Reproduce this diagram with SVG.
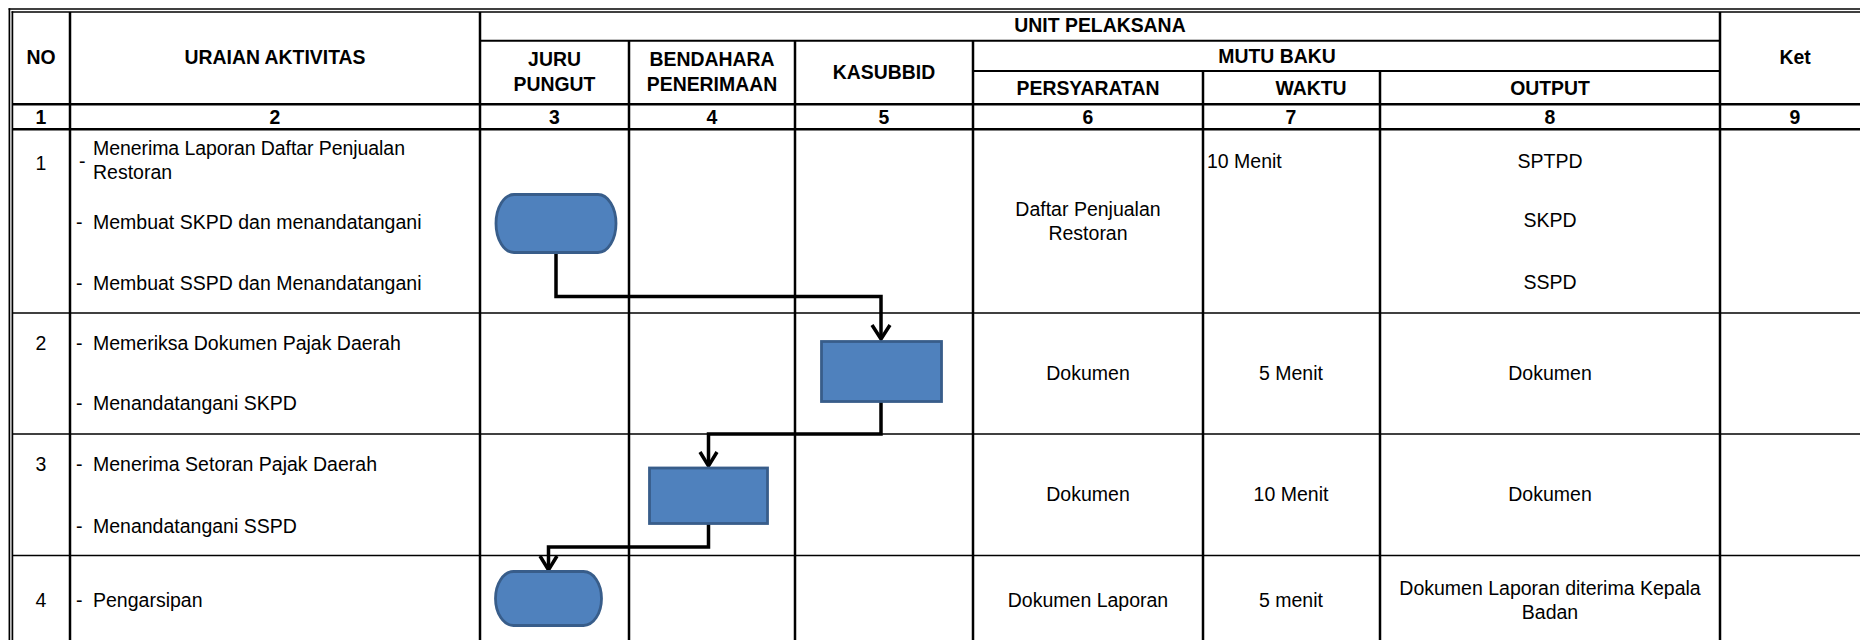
<svg xmlns="http://www.w3.org/2000/svg" width="1860" height="640" viewBox="0 0 1860 640">
<style>
.bg{fill:#ffffff}
.v{stroke:#000;stroke-width:2.5}
.hh{stroke:#000;stroke-width:2}
.hn{stroke:#000;stroke-width:2.5}
.hb{stroke:#000;stroke-width:1.5}
.ob{stroke:#000;stroke-width:1.7}
.th{font-family:"Liberation Sans",Arial,sans-serif;font-weight:bold;font-size:19.4px;fill:#000;text-anchor:middle}
.t{font-family:"Liberation Sans",Arial,sans-serif;font-size:19.5px;fill:#000}
.c{text-anchor:middle}
.shape{fill:#4F81BD;stroke:#385D8A;stroke-width:2.8}
.conn{fill:none;stroke:#000;stroke-width:3.5;stroke-linejoin:miter}
.head{fill:none;stroke:#000;stroke-width:3.5;stroke-linejoin:miter;stroke-linecap:butt}
</style>
<rect class="bg" x="0" y="0" width="1860" height="640"/>
<g id="table">
  <line class="ob" x1="8.6" y1="9" x2="1860" y2="9"/>
  <line class="ob" x1="11.6" y1="12" x2="1860" y2="12"/>
  <line class="ob" x1="9.4" y1="8.2" x2="9.4" y2="640"/>
  <line class="ob" x1="12.4" y1="11.2" x2="12.4" y2="640"/>
  <line class="hh" x1="480" y1="40.7" x2="1720" y2="40.7"/>
  <line class="hh" x1="973" y1="71" x2="1720" y2="71"/>
  <line class="hn" x1="12" y1="104.3" x2="1860" y2="104.3"/>
  <line class="hn" x1="12" y1="129.3" x2="1860" y2="129.3"/>
  <line class="hb" x1="12" y1="313" x2="1860" y2="313"/>
  <line class="hb" x1="12" y1="434" x2="1860" y2="434"/>
  <line class="hb" x1="12" y1="555.5" x2="1860" y2="555.5"/>
  <line class="v" x1="70" y1="12" x2="70" y2="640"/>
  <line class="v" x1="480" y1="12" x2="480" y2="640"/>
  <line class="v" x1="629" y1="40.7" x2="629" y2="640"/>
  <line class="v" x1="795" y1="40.7" x2="795" y2="640"/>
  <line class="v" x1="973" y1="40.7" x2="973" y2="640"/>
  <line class="v" x1="1203" y1="71" x2="1203" y2="640"/>
  <line class="v" x1="1380" y1="71" x2="1380" y2="640"/>
  <line class="v" x1="1720" y1="12" x2="1720" y2="640"/>
</g>
<g id="header">
  <text class="th" x="41" y="64">NO</text>
  <text class="th" x="275" y="64">URAIAN AKTIVITAS</text>
  <text class="th" x="1100" y="32">UNIT PELAKSANA</text>
  <text class="th" x="554.5" y="66">JURU</text>
  <text class="th" x="554.5" y="91">PUNGUT</text>
  <text class="th" x="712" y="66">BENDAHARA</text>
  <text class="th" x="712" y="91">PENERIMAAN</text>
  <text class="th" x="884" y="79">KASUBBID</text>
  <text class="th" x="1277" y="63">MUTU BAKU</text>
  <text class="th" x="1088" y="95">PERSYARATAN</text>
  <text class="th" x="1311" y="95">WAKTU</text>
  <text class="th" x="1550" y="95">OUTPUT</text>
  <text class="th" x="1795" y="64">Ket</text>
  <text class="th" x="41" y="123.5">1</text>
  <text class="th" x="275" y="123.5">2</text>
  <text class="th" x="554.5" y="123.5">3</text>
  <text class="th" x="712" y="123.5">4</text>
  <text class="th" x="884" y="123.5">5</text>
  <text class="th" x="1088" y="123.5">6</text>
  <text class="th" x="1291" y="123.5">7</text>
  <text class="th" x="1550" y="123.5">8</text>
  <text class="th" x="1795" y="123.5">9</text>
</g>
<g id="rows">
  <text class="t c" x="41" y="170">1</text>
  <text class="t" x="79" y="168">-</text>
  <text class="t" x="93" y="155" textLength="312" lengthAdjust="spacing">Menerima Laporan Daftar Penjualan</text>
  <text class="t" x="93" y="179">Restoran</text>
  <text class="t" x="76" y="229">-  <tspan x="93">Membuat SKPD dan menandatangani</tspan></text>
  <text class="t" x="76" y="290">-  <tspan x="93">Membuat SSPD dan Menandatangani</tspan></text>
  <text class="t c" x="1088" y="216">Daftar Penjualan</text>
  <text class="t c" x="1088" y="240">Restoran</text>
  <text class="t" x="1207" y="168">10 Menit</text>
  <text class="t c" x="1550" y="168">SPTPD</text>
  <text class="t c" x="1550" y="227">SKPD</text>
  <text class="t c" x="1550" y="289">SSPD</text>

  <text class="t c" x="41" y="350">2</text>
  <text class="t" x="76" y="350">-  <tspan x="93">Memeriksa Dokumen Pajak Daerah</tspan></text>
  <text class="t" x="76" y="410">-  <tspan x="93">Menandatangani SKPD</tspan></text>
  <text class="t c" x="1088" y="380">Dokumen</text>
  <text class="t c" x="1291" y="380">5 Menit</text>
  <text class="t c" x="1550" y="380">Dokumen</text>

  <text class="t c" x="41" y="471">3</text>
  <text class="t" x="76" y="471">-  <tspan x="93">Menerima Setoran Pajak Daerah</tspan></text>
  <text class="t" x="76" y="533">-  <tspan x="93">Menandatangani SSPD</tspan></text>
  <text class="t c" x="1088" y="501">Dokumen</text>
  <text class="t c" x="1291" y="501">10 Menit</text>
  <text class="t c" x="1550" y="501">Dokumen</text>

  <text class="t c" x="41" y="607">4</text>
  <text class="t" x="76" y="607">-  <tspan x="93">Pengarsipan</tspan></text>
  <text class="t c" x="1088" y="607">Dokumen Laporan</text>
  <text class="t c" x="1291" y="607">5 menit</text>
  <text class="t c" x="1550" y="595">Dokumen Laporan diterima Kepala</text>
  <text class="t c" x="1550" y="619">Badan</text>
</g>
<g id="connectors">
  <polyline class="conn" points="556,252 556,296.5 881,296.5 881,338"/>
  <polyline class="head" points="872,325 881,339 890,325"/>
  <polyline class="conn" points="881,401.5 881,434 708.5,434 708.5,465"/>
  <polyline class="head" points="700,452 708.5,466 717,452"/>
  <polyline class="conn" points="708.5,523.5 708.5,547 548.5,547 548.5,569"/>
  <polyline class="head" points="540,556 548.5,570 557,556"/>
</g>
<g id="node-start">
  <rect class="shape" x="496" y="194.5" width="120" height="58" rx="18" ry="29"/>
</g>
<g id="node-kasubbid">
  <rect class="shape" x="821.5" y="341.5" width="120" height="60"/>
</g>
<g id="node-bendahara">
  <rect class="shape" x="649.5" y="468" width="118" height="55.5"/>
</g>
<g id="node-end">
  <rect class="shape" x="495.5" y="571.5" width="106" height="54" rx="18" ry="27"/>
</g>
</svg>
